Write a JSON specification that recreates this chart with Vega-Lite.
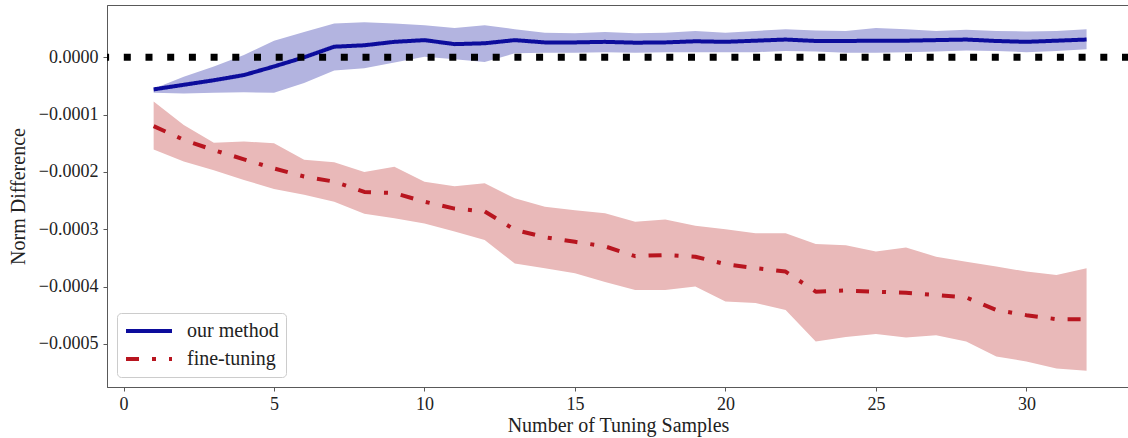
{
  "$schema": "https://vega.github.io/schema/vega-lite/v6.json",
  "width": 1022,
  "height": 382,
  "autosize": {"type": "none"},
  "padding": {"left": 107, "top": 5, "right": 0, "bottom": 51},
  "background": "white",
  "config": {
    "view": {"stroke": "#595959", "strokeWidth": 1},
    "font": "Liberation Serif",
    "axis": {
      "grid": false,
      "domainColor": "#595959",
      "tickColor": "#595959",
      "tickSize": 4,
      "labelFont": "Liberation Serif",
      "titleFont": "Liberation Serif",
      "labelFontSize": 18,
      "titleFontSize": 20,
      "titleFontWeight": "normal",
      "labelColor": "#222222",
      "titleColor": "#222222"
    },
    "legend": {
      "orient": "bottom-left",
      "offset": 10,
      "padding": 7,
      "fillColor": "rgba(255,255,255,0.8)",
      "strokeColor": "#cccccc",
      "cornerRadius": 4,
      "labelFont": "Liberation Serif",
      "labelFontSize": 20,
      "labelColor": "#222222",
      "symbolType": "stroke",
      "symbolSize": 2116,
      "symbolStrokeWidth": 4,
      "clipHeight": 22,
      "rowPadding": 6,
      "labelOffset": 13
    }
  },
  "data": {
    "values": [
      {"x": 1, "method": "our method", "mean": -0.000056, "lo": -0.000062, "hi": -0.000055},
      {"x": 2, "method": "our method", "mean": -0.000048, "lo": -0.000063, "hi": -0.000034},
      {"x": 3, "method": "our method", "mean": -0.000040, "lo": -0.000062, "hi": -0.000016},
      {"x": 4, "method": "our method", "mean": -0.000031, "lo": -0.000061, "hi": 0.000004},
      {"x": 5, "method": "our method", "mean": -0.000016, "lo": -0.000062, "hi": 0.000029},
      {"x": 6, "method": "our method", "mean": 0.000000, "lo": -0.000045, "hi": 0.000044},
      {"x": 7, "method": "our method", "mean": 0.0000185, "lo": -0.000023, "hi": 0.000059},
      {"x": 8, "method": "our method", "mean": 0.000021, "lo": -0.000019, "hi": 0.000061},
      {"x": 9, "method": "our method", "mean": 0.000027, "lo": -0.000009, "hi": 0.000059},
      {"x": 10, "method": "our method", "mean": 0.000030, "lo": 0.000001, "hi": 0.000056},
      {"x": 11, "method": "our method", "mean": 0.000023, "lo": -0.0000035, "hi": 0.000051},
      {"x": 12, "method": "our method", "mean": 0.0000245, "lo": -0.000008, "hi": 0.000056},
      {"x": 13, "method": "our method", "mean": 0.000030, "lo": 0.000007, "hi": 0.000049},
      {"x": 14, "method": "our method", "mean": 0.000026, "lo": 0.000008, "hi": 0.000043},
      {"x": 15, "method": "our method", "mean": 0.000026, "lo": 0.000008, "hi": 0.000042},
      {"x": 16, "method": "our method", "mean": 0.000027, "lo": 0.000009, "hi": 0.000044},
      {"x": 17, "method": "our method", "mean": 0.0000255, "lo": 0.000008, "hi": 0.000042},
      {"x": 18, "method": "our method", "mean": 0.000026, "lo": 0.000009, "hi": 0.000043},
      {"x": 19, "method": "our method", "mean": 0.000028, "lo": 0.000009, "hi": 0.000046},
      {"x": 20, "method": "our method", "mean": 0.000027, "lo": 0.000009, "hi": 0.000043},
      {"x": 21, "method": "our method", "mean": 0.000029, "lo": 0.000009, "hi": 0.000046},
      {"x": 22, "method": "our method", "mean": 0.000031, "lo": 0.000011, "hi": 0.000049},
      {"x": 23, "method": "our method", "mean": 0.0000285, "lo": 0.000010, "hi": 0.000047},
      {"x": 24, "method": "our method", "mean": 0.0000285, "lo": 0.000008, "hi": 0.000046},
      {"x": 25, "method": "our method", "mean": 0.000029, "lo": 0.000008, "hi": 0.000051},
      {"x": 26, "method": "our method", "mean": 0.000029, "lo": 0.000009, "hi": 0.000049},
      {"x": 27, "method": "our method", "mean": 0.000030, "lo": 0.000010, "hi": 0.000046},
      {"x": 28, "method": "our method", "mean": 0.000031, "lo": 0.000012, "hi": 0.000048},
      {"x": 29, "method": "our method", "mean": 0.0000285, "lo": 0.000011, "hi": 0.000046},
      {"x": 30, "method": "our method", "mean": 0.000027, "lo": 0.000009, "hi": 0.000045},
      {"x": 31, "method": "our method", "mean": 0.000029, "lo": 0.000011, "hi": 0.000046},
      {"x": 32, "method": "our method", "mean": 0.000031, "lo": 0.000014, "hi": 0.000049},
      {"x": 1, "method": "fine-tuning", "mean": -0.000120, "lo": -0.000161, "hi": -0.000077},
      {"x": 2, "method": "fine-tuning", "mean": -0.000144, "lo": -0.000182, "hi": -0.000118},
      {"x": 3, "method": "fine-tuning", "mean": -0.000162, "lo": -0.000197, "hi": -0.000149},
      {"x": 4, "method": "fine-tuning", "mean": -0.000178, "lo": -0.000214, "hi": -0.000147},
      {"x": 5, "method": "fine-tuning", "mean": -0.000194, "lo": -0.000230, "hi": -0.000150},
      {"x": 6, "method": "fine-tuning", "mean": -0.000208, "lo": -0.000240, "hi": -0.000179},
      {"x": 7, "method": "fine-tuning", "mean": -0.000217, "lo": -0.000252, "hi": -0.000183},
      {"x": 8, "method": "fine-tuning", "mean": -0.000235, "lo": -0.000273, "hi": -0.000200},
      {"x": 9, "method": "fine-tuning", "mean": -0.000237, "lo": -0.000281, "hi": -0.000191},
      {"x": 10, "method": "fine-tuning", "mean": -0.000252, "lo": -0.000290, "hi": -0.000217},
      {"x": 11, "method": "fine-tuning", "mean": -0.000264, "lo": -0.000304, "hi": -0.000225},
      {"x": 12, "method": "fine-tuning", "mean": -0.000269, "lo": -0.000319, "hi": -0.000220},
      {"x": 13, "method": "fine-tuning", "mean": -0.000301, "lo": -0.000360, "hi": -0.000246},
      {"x": 14, "method": "fine-tuning", "mean": -0.000314, "lo": -0.000368, "hi": -0.000261},
      {"x": 15, "method": "fine-tuning", "mean": -0.000322, "lo": -0.000377, "hi": -0.000267},
      {"x": 16, "method": "fine-tuning", "mean": -0.000330, "lo": -0.000392, "hi": -0.000272},
      {"x": 17, "method": "fine-tuning", "mean": -0.000347, "lo": -0.000406, "hi": -0.000287},
      {"x": 18, "method": "fine-tuning", "mean": -0.000345, "lo": -0.000406, "hi": -0.000283},
      {"x": 19, "method": "fine-tuning", "mean": -0.000348, "lo": -0.000400, "hi": -0.000294},
      {"x": 20, "method": "fine-tuning", "mean": -0.000361, "lo": -0.000426, "hi": -0.000300},
      {"x": 21, "method": "fine-tuning", "mean": -0.000368, "lo": -0.000429, "hi": -0.000307},
      {"x": 22, "method": "fine-tuning", "mean": -0.000374, "lo": -0.000441, "hi": -0.000307},
      {"x": 23, "method": "fine-tuning", "mean": -0.000409, "lo": -0.000496, "hi": -0.000326},
      {"x": 24, "method": "fine-tuning", "mean": -0.000407, "lo": -0.000488, "hi": -0.000328},
      {"x": 25, "method": "fine-tuning", "mean": -0.000409, "lo": -0.000483, "hi": -0.000339},
      {"x": 26, "method": "fine-tuning", "mean": -0.000411, "lo": -0.000489, "hi": -0.000332},
      {"x": 27, "method": "fine-tuning", "mean": -0.000415, "lo": -0.000485, "hi": -0.000348},
      {"x": 28, "method": "fine-tuning", "mean": -0.000419, "lo": -0.000496, "hi": -0.000357},
      {"x": 29, "method": "fine-tuning", "mean": -0.000441, "lo": -0.000522, "hi": -0.000365},
      {"x": 30, "method": "fine-tuning", "mean": -0.000450, "lo": -0.000531, "hi": -0.000374},
      {"x": 31, "method": "fine-tuning", "mean": -0.000457, "lo": -0.000543, "hi": -0.000380},
      {"x": 32, "method": "fine-tuning", "mean": -0.000457, "lo": -0.000547, "hi": -0.000368}
    ]
  },
  "layer": [
    {
      "transform": [{"filter": "datum.method === 'our method'"}],
      "mark": {"type": "area", "fill": "#b3b4e0", "opacity": 1},
      "encoding": {
        "x": {"field": "x", "type": "quantitative", "title": "Number of Tuning Samples",
          "scale": {"domain": [-0.55, 33.41], "nice": false, "zero": false},
          "axis": {"values": [0, 5, 10, 15, 20, 25, 30], "labelPadding": 4, "titleY": 38, "titleBaseline": "middle"}},
        "y": {"field": "lo", "type": "quantitative", "title": "Norm Difference",
          "scale": {"domain": [-0.0005754, 0.0000913], "nice": false, "zero": false},
          "axis": {"values": [-0.0005, -0.0004, -0.0003, -0.0002, -0.0001, 0], "format": ".4f", "labelPadding": 5, "titleX": -89, "titleY": 191, "titleAngle": -90, "titleBaseline": "middle", "titleAlign": "center"}},
        "y2": {"field": "hi"}
      }
    },
    {
      "transform": [{"filter": "datum.method === 'fine-tuning'"}],
      "mark": {"type": "area", "fill": "#e9b9b9", "opacity": 1},
      "encoding": {
        "x": {"field": "x", "type": "quantitative", "title": "Number of Tuning Samples"},
        "y": {"field": "lo", "type": "quantitative", "title": "Norm Difference"},
        "y2": {"field": "hi"}
      }
    },
    {
      "mark": {"type": "line", "strokeWidth": 4, "strokeCap": "butt", "strokeJoin": "round"},
      "encoding": {
        "x": {"field": "x", "type": "quantitative", "title": "Number of Tuning Samples"},
        "y": {"field": "mean", "type": "quantitative", "title": "Norm Difference"},
        "color": {"field": "method", "type": "nominal", "title": null,
          "scale": {"domain": ["our method", "fine-tuning"], "range": ["#0c0c9c", "#b8151f"]}},
        "strokeDash": {"field": "method", "type": "nominal", "title": null,
          "scale": {"domain": ["our method", "fine-tuning"], "range": [[1, 0], [13, 13, 4, 13]]}}
      }
    },
    {
      "data": {"values": [{"ref": 0}]},
      "mark": {"type": "rule", "color": "black", "strokeWidth": 7, "strokeDash": [7, 14.7], "strokeCap": "butt"},
      "encoding": {
        "y": {"field": "ref", "type": "quantitative", "title": "Norm Difference"}
      }
    }
  ]
}
